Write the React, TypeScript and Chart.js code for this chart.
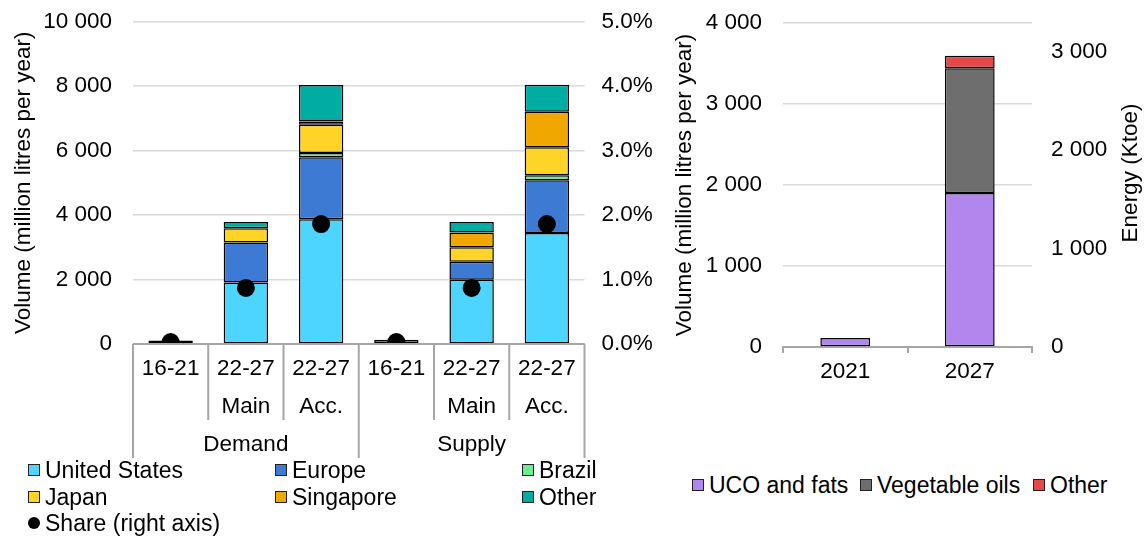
import React, { useEffect, useRef } from 'react';
import { Chart, registerables } from 'chart.js';

Chart.register(...registerables);

const FONT = "'Liberation Sans', Arial, Helvetica, sans-serif";
const TICK_SIZE = 22.5;
const LEGEND_SIZE = 23;

// ---------- Left chart data ----------
const periods = ['16-21', '22-27', '22-27', '16-21', '22-27', '22-27'];
const variants = ['', 'Main', 'Acc.', '', 'Main', 'Acc.'];
const groups = ['Demand', 'Supply'];
const unitedStates = [null, 1910, 3870, null, 1990, 3440];
const europe = [110, 1240, 1920, 130, 560, 1640];
const brazil = [null, null, 130, null, null, 150];
const japan = [null, 440, 880, null, 450, 870];
const singapore = [null, null, 100, null, 460, 1100];
const otherRegions = [null, 190, 1130, null, 320, 840];
const sharePct = [0.03, 0.87, 1.86, 0.03, 0.87, 1.86];
const volumeTicks = [0, 2000, 4000, 6000, 8000, 10000];
const shareTicks = [0, 1, 2, 3, 4, 5];

// ---------- Right chart data ----------
const years = ['2021', '2027'];
const ucoFats = [110, 1900];
const vegetableOils = [null, 1540];
const otherFeedstock = [null, 155];
const rightVolumeTicks = [0, 1000, 2000, 3000, 4000];
const energyTicks = [0, 1000, 2000, 3000];
const energyMax = 3290;

// ---------- Colours ----------
const C_US = '#4dd5ff';
const C_EU = '#3d7ad3';
const C_BR = '#6aed95';
const C_JP = '#ffd426';
const C_SG = '#f0a800';
const C_OT = '#00ada3';
const C_UCO = '#b187ee';
const C_VEG = '#6e6e6e';
const C_OTR = '#e44848';
const GRID = '#d9d9d9';
const AXIS = '#a6a6a6';

const fmtThousands = (v: number) => String(Math.round(v)).replace(/\B(?=(\d{3})+(?!\d))/g, ' ');
const setTicks = (list: number[]) => (s: any) => { s.ticks = list.map((value) => ({ value })); };
const fitVertical = (w: number) => (s: any) => { s.width = w; s.paddingTop = 0; s.paddingBottom = 0; };

const barStyle = {
  borderColor: '#000',
  borderWidth: 1.5,
  borderSkipped: false as const,
  barPercentage: 0.59,
  categoryPercentage: 1,
  order: 1,
};

const tickFont = { family: FONT, size: TICK_SIZE };

const multiLevelPlugin = {
  id: 'multiLevel',
  afterDraw(chart: any) {
    const { ctx, chartArea, scales } = chart;
    const x = scales.x;
    const base = scales.y.getPixelForValue(0);
    const n = periods.length;
    const step = x.getPixelForValue(1) - x.getPixelForValue(0);
    ctx.save();
    ctx.strokeStyle = AXIS;
    ctx.lineWidth = 2;
    ctx.beginPath();
    ctx.moveTo(chartArea.left, base);
    ctx.lineTo(chartArea.right, base);
    for (let i = 0; i <= n; i++) {
      const px = i < n ? x.getPixelForValue(i) - step / 2 : x.getPixelForValue(n - 1) + step / 2;
      const outer = i % 3 === 0;
      ctx.moveTo(px, base);
      ctx.lineTo(px, base + (outer ? 114 : 76));
    }
    ctx.stroke();
    ctx.fillStyle = '#000';
    ctx.font = `${TICK_SIZE}px ${FONT}`;
    ctx.textAlign = 'center';
    ctx.textBaseline = 'middle';
    for (let i = 0; i < n; i++) {
      const cx = x.getPixelForValue(i);
      ctx.fillText(periods[i], cx, base + 25);
      if (variants[i]) ctx.fillText(variants[i], cx, base + 63);
    }
    groups.forEach((g, gi) => {
      const a = x.getPixelForValue(gi * 3);
      const b = x.getPixelForValue(gi * 3 + 2);
      ctx.fillText(g, (a + b) / 2, base + 101);
    });
    ctx.restore();
  },
};

const energyTitlePlugin = {
  id: 'energyTitle',
  afterDraw(chart: any) {
    const { ctx, chartArea } = chart;
    ctx.save();
    ctx.translate(chart.width - 14, chartArea.top + 150);
    ctx.rotate(-Math.PI / 2);
    ctx.fillStyle = '#000';
    ctx.font = `${TICK_SIZE}px ${FONT}`;
    ctx.textAlign = 'center';
    ctx.textBaseline = 'middle';
    ctx.fillText('Energy (Ktoe)', 0, 0);
    ctx.restore();
  },
};

function LeftChart() {
  const ref = useRef<HTMLCanvasElement>(null);
  useEffect(() => {
    const chart = new Chart(ref.current as HTMLCanvasElement, {
      type: 'bar',
      data: {
        labels: periods.map((p, i) => `${p} ${variants[i]}`),
        datasets: [
          {
            type: 'line' as const,
            label: 'Share (right axis)',
            data: sharePct,
            yAxisID: 'y1',
            showLine: false,
            pointRadius: 9,
            pointHoverRadius: 9,
            pointBackgroundColor: '#000',
            pointBorderColor: '#000',
            pointBorderWidth: 0,
            order: 0,
          } as any,
          { label: 'United States', data: unitedStates, backgroundColor: C_US, ...barStyle },
          { label: 'Europe', data: europe, backgroundColor: C_EU, ...barStyle },
          { label: 'Brazil', data: brazil, backgroundColor: C_BR, ...barStyle },
          { label: 'Japan', data: japan, backgroundColor: C_JP, ...barStyle },
          { label: 'Singapore', data: singapore, backgroundColor: C_SG, ...barStyle },
          { label: 'Other', data: otherRegions, backgroundColor: C_OT, ...barStyle },
        ],
      },
      options: {
        responsive: false,
        animation: false,
        layout: { padding: { top: 21.5, left: 0, right: 0, bottom: 0 } },
        plugins: { legend: { display: false }, tooltip: { enabled: false } },
        scales: {
          x: {
            stacked: true,
            ticks: { display: false },
            grid: { display: false },
            border: { display: false },
            afterFit: (s: any) => { s.height = 116; },
          },
          y: {
            stacked: true,
            min: volumeTicks[0],
            max: volumeTicks[volumeTicks.length - 1],
            afterBuildTicks: setTicks(volumeTicks),
            ticks: {
              padding: 21,
              color: '#000',
              font: tickFont,
              callback: (v: any) => fmtThousands(Number(v)),
            },
            grid: { color: GRID, lineWidth: 1.5, drawTicks: false },
            border: { display: false },
            title: {
              display: true,
              text: 'Volume (million litres per year)',
              color: '#000',
              font: tickFont,
              padding: { top: 10, bottom: 0 },
            },
            afterFit: fitVertical(133),
          },
          y1: {
            position: 'right',
            min: shareTicks[0],
            max: shareTicks[shareTicks.length - 1],
            afterBuildTicks: setTicks(shareTicks),
            ticks: {
              padding: 17,
              color: '#000',
              font: tickFont,
              callback: (v: any) => `${Number(v).toFixed(1)}%`,
            },
            grid: { display: false, drawTicks: false },
            border: { display: false },
            afterFit: fitVertical(75.5),
          },
        },
      } as any,
      plugins: [multiLevelPlugin],
    });
    return () => chart.destroy();
  }, []);
  return <canvas ref={ref} width={660} height={460} style={{ position: 'absolute', left: 0, top: 0, width: 660, height: 460 }} />;
}

function RightChart() {
  const ref = useRef<HTMLCanvasElement>(null);
  useEffect(() => {
    const rb = { ...barStyle, barPercentage: 0.4 };
    const chart = new Chart(ref.current as HTMLCanvasElement, {
      type: 'bar',
      data: {
        labels: years,
        datasets: [
          { label: 'UCO and fats', data: ucoFats, backgroundColor: C_UCO, ...rb },
          { label: 'Vegetable oils', data: vegetableOils, backgroundColor: C_VEG, ...rb },
          { label: 'Other', data: otherFeedstock, backgroundColor: C_OTR, ...rb },
        ],
      },
      options: {
        responsive: false,
        animation: false,
        layout: { padding: { top: 23, left: 0, right: 0, bottom: 0 } },
        plugins: { legend: { display: false }, tooltip: { enabled: false } },
        scales: {
          x: {
            stacked: true,
            ticks: { padding: 5, color: '#000', font: tickFont },
            grid: { offset: true, drawOnChartArea: false, drawTicks: true, tickLength: 6, color: AXIS, lineWidth: 2 },
            border: { display: true, color: AXIS, width: 2 },
            afterFit: (s: any) => { s.height = 113; },
          },
          y: {
            stacked: true,
            min: rightVolumeTicks[0],
            max: rightVolumeTicks[rightVolumeTicks.length - 1],
            afterBuildTicks: setTicks(rightVolumeTicks),
            ticks: {
              padding: 21,
              color: '#000',
              font: tickFont,
              callback: (v: any) => fmtThousands(Number(v)),
            },
            grid: { color: GRID, lineWidth: 1.5, drawTicks: false },
            border: { display: false },
            title: {
              display: true,
              text: 'Volume (million litres per year)',
              color: '#000',
              font: tickFont,
              padding: { top: 11, bottom: 0 },
            },
            afterFit: fitVertical(123),
          },
          y1: {
            position: 'right',
            min: 0,
            max: energyMax,
            afterBuildTicks: setTicks(energyTicks),
            ticks: {
              padding: 19,
              color: '#000',
              font: tickFont,
              callback: (v: any) => fmtThousands(Number(v)),
            },
            grid: { display: false, drawTicks: false },
            border: { display: false },
            afterFit: fitVertical(113),
          },
        },
      } as any,
      plugins: [energyTitlePlugin],
    });
    return () => chart.destroy();
  }, []);
  return <canvas ref={ref} width={485} height={460} style={{ position: 'absolute', left: 660, top: 0, width: 485, height: 460 }} />;
}

type LegendDef = { label: string; color: string; x: number; y: number; dot?: boolean };

const leftLegend: LegendDef[] = [
  { label: 'United States', color: C_US, x: 28, y: 470 },
  { label: 'Europe', color: C_EU, x: 275, y: 470 },
  { label: 'Brazil', color: C_BR, x: 522, y: 470 },
  { label: 'Japan', color: C_JP, x: 28, y: 496.5 },
  { label: 'Singapore', color: C_SG, x: 275, y: 496.5 },
  { label: 'Other', color: C_OT, x: 522, y: 496.5 },
  { label: 'Share (right axis)', color: '#000', x: 28, y: 523, dot: true },
];

const rightLegend: LegendDef[] = [
  { label: 'UCO and fats', color: C_UCO, x: 692, y: 485 },
  { label: 'Vegetable oils', color: C_VEG, x: 860, y: 485 },
  { label: 'Other', color: C_OTR, x: 1033, y: 485 },
];

function LegendItem({ d }: { d: LegendDef }) {
  return (
    <div
      style={{
        position: 'absolute',
        left: d.x,
        top: d.y - 14,
        height: 28,
        display: 'flex',
        alignItems: 'center',
        whiteSpace: 'nowrap',
        fontFamily: FONT,
        fontSize: LEGEND_SIZE,
        color: '#000',
        lineHeight: '28px',
      }}
    >
      <span
        style={{
          display: 'inline-block',
          width: 12,
          height: 12,
          boxSizing: 'border-box',
          background: d.color,
          border: d.dot ? 'none' : '1px solid #222',
          borderRadius: d.dot ? '50%' : 0,
          marginRight: 5,
        }}
      />
      <span>{d.label}</span>
    </div>
  );
}

export default function App() {
  return (
    <div style={{ position: 'fixed', left: 0, top: 0, width: 1145, height: 536, background: '#fff', overflow: 'hidden' }}>
      <LeftChart />
      <RightChart />
      {leftLegend.map((d) => <LegendItem key={'l' + d.label} d={d} />)}
      {rightLegend.map((d) => <LegendItem key={'r' + d.label} d={d} />)}
    </div>
  );
}
